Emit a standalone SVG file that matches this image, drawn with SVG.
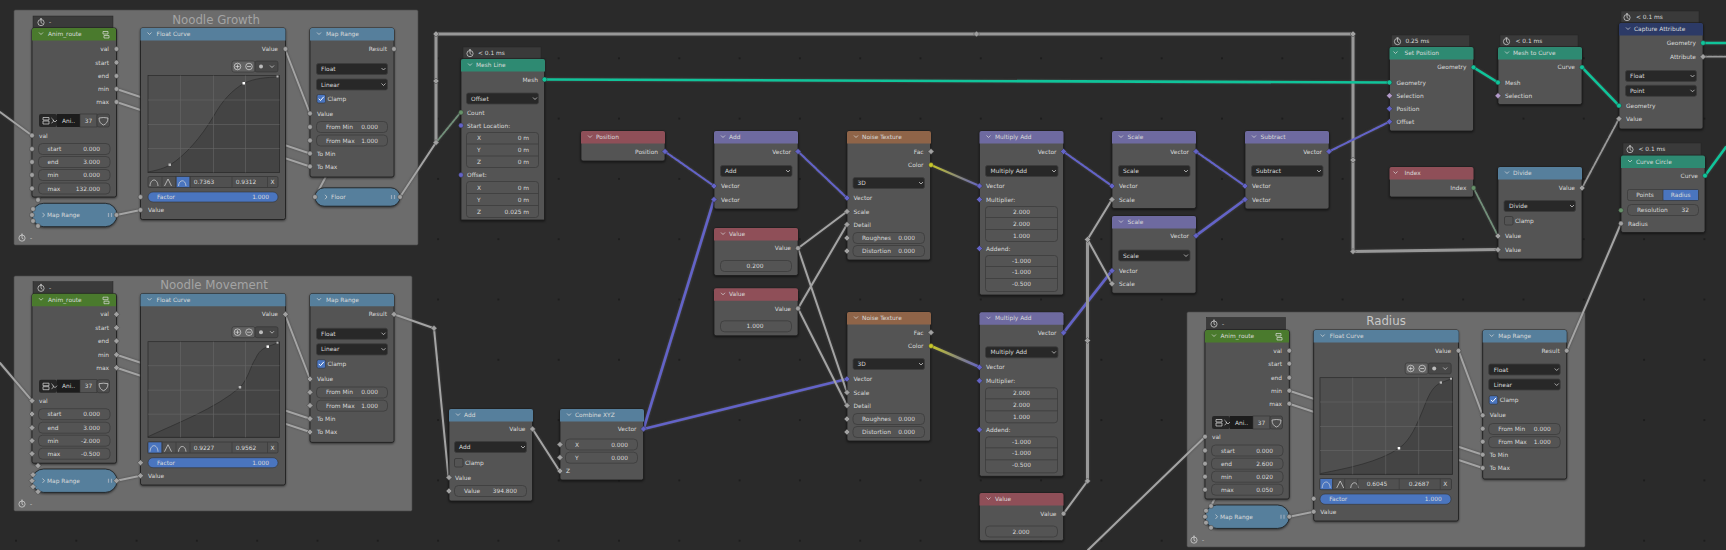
<svg xmlns="http://www.w3.org/2000/svg" width="1726" height="550" viewBox="0 0 1726 550">
<style>
text{font-family:"DejaVu Sans","Liberation Sans",sans-serif;font-size:5.9px;fill:#dadada}
.e{text-anchor:end}.m{text-anchor:middle}
.ft{font-size:11.8px;text-anchor:middle;fill:#a4a4a4}
.b{fill:#545454;stroke:#1c1c1c;stroke-width:.8;filter:drop-shadow(0 1px 1px #0008)}
.tab{fill:#3a3a3a;stroke:#262626;stroke-width:.5}
.f{fill:#545454;stroke:#3c3c3c;stroke-width:.8}
.dd{fill:#282828;stroke:#3c3c3c;stroke-width:.8}
.dv{stroke:#3c3c3c;stroke-width:.8;fill:none}
.ic{fill:none;stroke:#dcdcdc;stroke-width:.7}
.fr{fill:#6c6c6c;stroke:#4c4c4c;stroke-width:.6}
.hb{fill:#567f9c}.hg{fill:#4a7a2d}.hq{fill:#2e8a72}.hr{fill:#8f4f58}.hp{fill:#6e6aa0}.ho{fill:#8f6448}.hn{fill:#2c3a66}
.s{fill:#a1a1a1;stroke:#2c2c2c;stroke-width:.4}.sv{fill:#6363c7;stroke:#2c2c2c;stroke-width:.4}.sg{fill:#10c49a;stroke:#2c2c2c;stroke-width:.4}
.si{fill:#66916a;stroke:#2c2c2c;stroke-width:.4}.sy{fill:#c7c729;stroke:#2c2c2c;stroke-width:.4}.sl{fill:#b29ac9;stroke:#2c2c2c;stroke-width:.4}
#links{filter:drop-shadow(0 0 .8px #4a4a4a)}
#links path{fill:none;stroke-linecap:round}
.lw{stroke:#a4a4a4;stroke-width:2}.lt{stroke:#989898;stroke-width:3}
.lm{stroke:#10c49a;stroke-width:2.600}.lp{stroke:#6363c7;stroke-width:2.700}.lpd{stroke:#6363c7;stroke-width:2.100;stroke-dasharray:4 1.200}
.lwd{stroke:#9a9a9a;stroke-width:1.800;stroke-dasharray:4 1.200}.lid{stroke:#72907a;stroke-width:1.800;stroke-dasharray:4 1.200}
.g{fill:#4f4f4f;stroke:#2a2a2a;stroke-width:.7}.gl{stroke:#666;stroke-width:.6;fill:none}.ga{fill:#444;stroke:#2c2c2c;stroke-width:.7}
.cb{fill:#4a75bf;stroke:#333;stroke-width:.6}.cn{fill:#505050;stroke:#333;stroke-width:.7}
.pt{fill:#fff}.pn{fill:#b8b8b8}
</style>
<defs>
<pattern id="dots" x="15" y="-3" width="60.3" height="60.3" patternUnits="userSpaceOnUse"><rect width="2" height="2" fill="#1d1d1d"/></pattern>
<path id="D" d="M0-3 3 0 0 3-3 0z"/>
<circle id="C" r="2.4"/>
<path id="hd" d="M0 12.5V2q0-2 2-2h80q2 0 2 2v10.5z"/>
<path id="hw" d="M0 12.5V2q0-2 2-2h141q2 0 2 2v10.5z"/>
<path id="cv" class="ic" d="M-2-1 0 1 2-1"/>
<path id="cr" class="ic" d="M-1-2.2 1 0-1 2.2"/>
<g id="clk" class="ic"><circle cy=".6" r="3.1"/><path d="M-1-3.3H1M0-2.5V.6L1.5 1.6"/></g>
<path id="tick" d="M-2.4 0-.7 1.8 2.6-2" fill="none" stroke="#fff" stroke-width="1"/>
<g id="zb"><rect x="91.5" y="33" width="23" height="11" rx="2" fill="#626262" stroke="#333" stroke-width=".6"/><rect x="114.5" y="33" width="23" height="11" rx="2" fill="#474747" stroke="#333" stroke-width=".6"/><g class="ic"><circle cx="97" cy="38.5" r="3.3"/><path d="M95 38.5H99M97 36.5V40.5"/><circle cx="108.5" cy="38.5" r="3.3"/><path d="M106.5 38.5H110.5"/></g><circle cx="120.5" cy="38.5" r="2" fill="#bbb"/><use href="#cv" x="131.5" y="38.5"/></g>
<g id="hi" class="ic"><path d="M9.5 158C10 150 17 150 17.5 158M24 158 27.5 151 31 158M38 158C38.500 151 45 151 45.500 158"/></g>
<g id="sel"><rect x="7" y="86" width="18" height="13" rx="2" fill="#262626"/><rect x="25" y="86" width="23" height="13" fill="#1c1c1c"/><rect x="48" y="86" width="17" height="13" fill="#545454" stroke="#333" stroke-width=".6"/><rect x="65" y="86" width="12.500" height="13" rx="2" fill="#4c4c4c" stroke="#333" stroke-width=".6"/><path class="ic" d="M11 89.500H17V92H11ZM11 93H17V96H11ZM19.500 90C22 92 22 94 19.500 95"/><use href="#cv" x="23" y="93"/><path class="ic" d="M67 90Q71.500 89 76 90C76 94 74 96 71.500 97C69 96 67 94 67 90Z"/></g>
<path id="ngi" class="ic" d="M71 3.500H76V6H71ZM72 7.500H77V10H72Z"/>
<linearGradient id="gc1" gradientUnits="userSpaceOnUse" x1="931" y1="165" x2="979.500" y2="186"><stop offset="0" stop-color="#c7c729"/><stop offset=".5" stop-color="#8f8f70"/><stop offset="1" stop-color="#6363c7"/></linearGradient>
<linearGradient id="gc2" gradientUnits="userSpaceOnUse" x1="931" y1="346" x2="979.500" y2="367"><stop offset="0" stop-color="#c7c729"/><stop offset=".5" stop-color="#8f8f70"/><stop offset="1" stop-color="#6363c7"/></linearGradient>
</defs>
<rect id="bg" width="1726" height="550" fill="#2a2a2a"/>
<rect width="1726" height="550" fill="url(#dots)"/>

<g id="frames">
<g id="frame-growth"><rect class="fr" x="14" y="10" width="404" height="235" rx="1.500"/><text class="ft" x="216" y="23.500">Noodle Growth</text><use href="#clk" x="22" y="237.500"/><text x="30" y="240">-</text></g>
<g id="frame-movement"><rect class="fr" x="14" y="276" width="398" height="235" rx="1.500"/><text class="ft" x="214" y="288.500">Noodle Movement</text><use href="#clk" x="22" y="503.500"/><text x="30" y="506">-</text></g>
<g id="frame-radius"><rect class="fr" x="1187" y="312" width="398" height="235" rx="1.500"/><text class="ft" x="1386" y="325" style="fill:#c8c8c8">Radius</text><use href="#clk" x="1194" y="539.500"/><text x="1202" y="542">-</text></g>
</g>

<g id="links">
<path class="lw" d="M0 112 32 135.500"/>
<path class="lw" d="M116.500 89 310 153.500M116.500 102 310 166.500M116.500 215 140.500 210M285 49 310 113.500M394 49 315 197M116.500 49 38 200"/>
<path class="lw" d="M400 197 436 142.500"/>
<path class="lid" d="M436 142.500 460.500 112.500"/>
<path class="lt" d="M436 142.500V34H1353V251.500L1498 249.500"/>
<path class="lw" d="M0 363 32 400.700"/>
<path class="lw" d="M116.500 354.700 310 418.700M116.500 367.700 310 432M116.500 480.700 140.500 475.700M285 314.300 310 379M116.500 314.300 38 465.500"/>
<path class="lw" d="M394 314.300 434 328.300 448.500 477.500"/>
<path class="lw" d="M532.500 429 559.500 471"/>
<path class="lp" d="M643.500 429 714 199.500M643.500 429 847 379"/>
<path class="lm" d="M544.500 79.500 1389.500 82.500"/>
<path class="lpd" d="M665 151.500 714 186M798 151.500 847 198"/>
<path class="lw" d="M798 248.200 847 211.500M798 248.200 847 392.500M798 308.500 847 224.500M798 308.500 847 405.500"/>
<path d="M931 165 979.500 186" stroke="url(#gc1)" stroke-width="2"/>
<path d="M931 346 979.500 367" stroke="url(#gc2)" stroke-width="2.500"/>
<path class="lpd" d="M1063.500 151.500 1112 186M1196 151.500 1245 186M1329 151.500 1389.500 121.700"/>
<path class="lp" d="M1063.500 332.700 1112 270.700M1196 235.700 1245 199.500"/>
<path class="lw" d="M1063.500 513.700 1087.500 481M1087.500 239.500 1112 199.500M1087.500 239.500 1112 283.700"/>
<path class="lt" d="M1087.500 481V239.500"/>
<path class="lw" d="M1088 550 1205 436.700"/>
<path class="lw" d="M1289.300 390.700 1482.700 454.700M1289.300 403.700 1482.700 468M1289.300 516.700 1313.700 511.700M1458.500 350.700 1482.700 415.300M1289.300 350.700 1211 506"/>
<path class="lw" d="M1566.700 350.700 1621 223.500"/>
<path class="lm" d="M1473.500 67.300 1498 82.500M1582 67.300 1619 105.700M1703 43H1726M1705 175.700 1726 147"/>
<path class="lwd" d="M1582 188 1619 118.700M1703 56.700H1726"/>
<path class="lid" d="M1473.500 188 1498 236"/>
</g>
<g id="reroutes">
<use href="#D" class="s" x="436" y="34"/><use href="#D" class="s" x="436" y="81"/><use href="#D" class="s" x="436" y="142.500"/>
<use href="#D" class="s" x="976.500" y="34"/><use href="#D" class="s" x="1353" y="34"/><use href="#D" class="s" x="1353" y="160"/><use href="#D" class="s" x="1353" y="251.500"/>
<use href="#D" class="s" x="434" y="328.300"/><use href="#D" class="s" x="1087.500" y="239.500"/><use href="#D" class="s" x="1087.500" y="340.500"/><use href="#D" class="s" x="1087.500" y="481"/>
</g>

<g id="anim-growth" transform="translate(32 28)"><rect class="tab" x="1" y="-12" width="80" height="12.500"/><use href="#clk" x="9" y="-6"/><text x="17" y="-3.800">-</text><rect class="b" width="84.500" height="169" rx="2"/><use href="#hd" class="hg"/><use href="#cv" x="9" y="5.500"/><text x="16" y="8.200">Anim_route</text><use href="#ngi"/>
<text class="e" x="77" y="23.100">val</text><text class="e" x="77" y="36.600">start</text><text class="e" x="77" y="50.100">end</text><text class="e" x="77" y="63.100">min</text><text class="e" x="77" y="76.100">max</text>
<use href="#C" class="s" x="84.500" y="21"/><use href="#C" class="s" x="84.500" y="34.500"/><use href="#C" class="s" x="84.500" y="48"/><use href="#C" class="s" x="84.500" y="61"/><use href="#C" class="s" x="84.500" y="74"/>
<use href="#sel"/><text class="m" x="36.500" y="94.600">Ani..</text><text class="m" x="56.500" y="94.600">37</text>
<use href="#C" class="s" y="107.500"/><text x="7" y="109.600">val</text>
<rect class="f" x="6.500" y="115.500" width="71.500" height="11" rx="4"/><rect class="f" x="6.500" y="128.500" width="71.500" height="11" rx="4"/><rect class="f" x="6.500" y="141.500" width="71.500" height="11" rx="4"/><rect class="f" x="6.500" y="155" width="71.500" height="11" rx="4"/>
<use href="#C" class="s" y="121"/><use href="#C" class="s" y="134"/><use href="#C" class="s" y="147"/><use href="#C" class="s" y="160.500"/>
<text x="15.500" y="123.100">start</text><text class="e" x="68" y="123.100">0.000</text><text x="15.500" y="136.100">end</text><text class="e" x="68" y="136.100">3.000</text><text x="15.500" y="149.100">min</text><text class="e" x="68" y="149.100">0.000</text><text x="15.500" y="162.600">max</text><text class="e" x="68" y="162.600">132.000</text></g>

<g id="maprange-collapsed-growth" transform="translate(32 215)"><rect class="b" y="-11.700" width="85" height="23.400" rx="11.700" style="fill:#567f9c"/><use href="#cr" x="11.500"/><text x="15" y="2.100">Map Range</text><path d="M76.500-2V2M79.500-2V2" stroke="#9ab" stroke-width="1.200"/><use href="#C" class="s" x="6" y="-15"/><use href="#C" class="s" x="1" y="-6"/><use href="#C" class="s"/><use href="#C" class="s" x="1" y="6"/><use href="#C" class="s" x="6" y="11"/><use href="#C" class="s" x="84.500"/></g>

<g id="floatcurve-growth" transform="translate(140.500 28)"><rect class="b" width="145" height="191.500" rx="2"/><use href="#hw" class="hb"/><use href="#cv" x="9" y="5.500"/><text x="16" y="8.200">Float Curve</text><text class="e" x="137.500" y="23.100">Value</text><use href="#C" class="s" x="145" y="21"/><use href="#zb"/>
<rect class="g" x="7.500" y="47.500" width="131.500" height="97"/><path class="ga" d="M7.500 144C18 142 24 140 29.500 137C45 127 60 110 72.800 88.700C82 72 92 62 103.500 55.300C115 50 125 49.500 139 49V144.500H7.500Z"/><path class="gl" d="M40 47.500V144.500M73 47.500V144.500M105 47.500V144.500M7.500 72H139M7.500 96.500H139M7.500 120.500H139"/>
<rect class="pn" x="28" y="135.500" width="2.500" height="2.500"/><rect class="pt" x="102" y="54" width="2.500" height="2.500"/><rect class="pn" x="136" y="47.500" width="2" height="2"/>
<rect class="cn" x="7.500" y="148.500" width="130" height="11" rx="1.500"/><rect class="cb" x="35.500" y="148.500" width="14" height="11"/><use href="#hi"/><path class="dv" d="M21.500 148.500V159.500M35.500 148.500V159.500M49.500 148.500V159.500M91.500 148.500V159.500M127 148.500V159.500"/><text class="m" x="63.500" y="156">0.7363</text><text class="m" x="105.500" y="156">0.9312</text><text class="m" x="132" y="156">X</text>
<rect class="cb" x="7.500" y="164" width="130" height="10" rx="5"/><text x="16.500" y="171.100">Factor</text><text class="e" x="128.500" y="171.100">1.000</text><use href="#C" class="s" y="169"/><use href="#C" class="s" y="182"/><text x="7.500" y="184.100">Value</text></g>

<g id="maprange-growth" transform="translate(310 28)"><rect class="b" width="84" height="149" rx="2"/><use href="#hd" class="hb"/><use href="#cv" x="9" y="5.500"/><text x="16" y="8.200">Map Range</text><text class="e" x="77" y="23.100">Result</text><use href="#C" class="s" x="84" y="21"/>
<rect class="dd" x="6.500" y="35.500" width="71" height="11" rx="2"/><text x="11" y="43.100">Float</text><use href="#cv" x="73.500" y="41"/><rect class="dd" x="6.500" y="51" width="71" height="11" rx="2"/><text x="11" y="58.600">Linear</text><use href="#cv" x="73.500" y="56.500"/>
<rect class="cb" x="7" y="66.500" width="8.500" height="8.500" rx="1.500"/><use href="#tick" x="11.200" y="70.700"/><text x="17.500" y="73.100">Clamp</text>
<use href="#C" class="s" y="85.500"/><text x="7" y="87.600">Value</text><rect class="f" x="6.500" y="93.500" width="71" height="11" rx="4"/><rect class="f" x="6.500" y="107" width="71" height="11" rx="4"/><use href="#C" class="s" y="99"/><use href="#C" class="s" y="112.500"/><text x="16" y="101.100">From Min</text><text class="e" x="68" y="101.100">0.000</text><text x="16" y="114.600">From Max</text><text class="e" x="68" y="114.600">1.000</text>
<use href="#C" class="s" y="125.500"/><text x="7" y="127.600">To Min</text><use href="#C" class="s" y="138.500"/><text x="7" y="140.600">To Max</text></g>

<g id="floor" transform="translate(315 197)"><rect class="b" y="-9.200" width="85" height="18.400" rx="9.200" style="fill:#567f9c"/><use href="#cr" x="11"/><text x="16" y="2.100">Floor</text><path d="M76.500-2V2M79.500-2V2" stroke="#9ab" stroke-width="1.200"/><use href="#C" class="s"/><use href="#C" class="s" x="85"/></g>

<g id="anim-movement" transform="translate(32 293.700)"><rect class="tab" x="1" y="-12" width="80" height="12.500"/><use href="#clk" x="9" y="-6"/><text x="17" y="-3.800">-</text><rect class="b" width="84.500" height="169.500" rx="2"/><use href="#hd" class="hg"/><use href="#cv" x="9" y="5.500"/><text x="16" y="8.200">Anim_route</text><use href="#ngi"/>
<text class="e" x="77" y="22.700">val</text><text class="e" x="77" y="36.100">start</text><text class="e" x="77" y="49.400">end</text><text class="e" x="77" y="63.100">min</text><text class="e" x="77" y="76.100">max</text>
<use href="#D" class="s" x="84.500" y="20.600"/><use href="#D" class="s" x="84.500" y="34"/><use href="#D" class="s" x="84.500" y="47.300"/><use href="#D" class="s" x="84.500" y="61"/><use href="#D" class="s" x="84.500" y="74"/>
<use href="#sel"/><text class="m" x="36.500" y="94.600">Ani..</text><text class="m" x="56.500" y="94.600">37</text>
<use href="#D" class="s" y="107"/><text x="7" y="109.100">val</text>
<rect class="f" x="6.500" y="115" width="71.500" height="11" rx="4"/><rect class="f" x="6.500" y="128.500" width="71.500" height="11" rx="4"/><rect class="f" x="6.500" y="141.500" width="71.500" height="11" rx="4"/><rect class="f" x="6.500" y="154.500" width="71.500" height="11" rx="4"/>
<use href="#D" class="s" y="120.300"/><use href="#D" class="s" y="134"/><use href="#D" class="s" y="147"/><use href="#D" class="s" y="160"/>
<text x="15.500" y="122.400">start</text><text class="e" x="68" y="122.400">0.000</text><text x="15.500" y="136.100">end</text><text class="e" x="68" y="136.100">3.000</text><text x="15.500" y="149.100">min</text><text class="e" x="68" y="149.100">-2.000</text><text x="15.500" y="162.100">max</text><text class="e" x="68" y="162.100">-0.500</text></g>

<g id="maprange-collapsed-movement" transform="translate(32 480.700)"><rect class="b" y="-11.700" width="85" height="23.400" rx="11.700" style="fill:#567f9c"/><use href="#cr" x="11.500"/><text x="15" y="2.100">Map Range</text><path d="M76.500-2V2M79.500-2V2" stroke="#9ab" stroke-width="1.200"/><use href="#D" class="s" x="6" y="-15"/><use href="#D" class="s" x="1" y="-6"/><use href="#D" class="s"/><use href="#D" class="s" x="1" y="6"/><use href="#D" class="s" x="6" y="11"/><use href="#D" class="s" x="84.500"/></g>

<g id="floatcurve-movement" transform="translate(140.500 293.700)"><rect class="b" width="145" height="191.300" rx="2"/><use href="#hw" class="hb"/><use href="#cv" x="9" y="5.500"/><text x="16" y="8.200">Float Curve</text><text class="e" x="137.500" y="22.700">Value</text><use href="#D" class="s" x="145" y="20.600"/><use href="#zb"/>
<rect class="g" x="7.500" y="48" width="131.500" height="95.600"/><path class="ga" d="M7.500 143C35 130 75 115 99.500 93.600C108 85 110 72 115 65C118 58 122 55 127.200 53L139 48.500V143.600H7.500Z"/><path class="gl" d="M40 48V143.600M73 48V143.600M105 48V143.600M7.500 72H139M7.500 96.500H139M7.500 120.500H139"/>
<rect class="pn" x="98.200" y="92.300" width="2.500" height="2.500"/><rect class="pt" x="126" y="51.700" width="2.500" height="2.500"/><rect class="pn" x="136" y="48" width="2" height="2"/>
<rect class="cn" x="7.500" y="148.300" width="130" height="11" rx="1.500"/><rect class="cb" x="7.500" y="148.300" width="14" height="11"/><use href="#hi"/><path class="dv" d="M21.500 148.300V159.300M35.500 148.300V159.300M49.500 148.300V159.300M91.500 148.300V159.300M127 148.300V159.300"/><text class="m" x="63.500" y="156">0.9227</text><text class="m" x="105.500" y="156">0.9562</text><text class="m" x="132" y="156">X</text>
<rect class="cb" x="7.500" y="164" width="130" height="10" rx="5"/><text x="16.500" y="171.100">Factor</text><text class="e" x="128.500" y="171.100">1.000</text><use href="#D" class="s" y="169"/><use href="#D" class="s" y="182"/><text x="7.500" y="184.100">Value</text></g>

<g id="maprange-movement" transform="translate(310 293.700)"><rect class="b" width="84" height="148.700" rx="2"/><use href="#hd" class="hb"/><use href="#cv" x="9" y="5.500"/><text x="16" y="8.200">Map Range</text><text class="e" x="77" y="22.700">Result</text><use href="#D" class="s" x="84" y="20.600"/>
<rect class="dd" x="6.500" y="34.600" width="71" height="11" rx="2"/><text x="11" y="42.200">Float</text><use href="#cv" x="73.500" y="40"/><rect class="dd" x="6.500" y="50" width="71" height="11.300" rx="2"/><text x="11" y="57.700">Linear</text><use href="#cv" x="73.500" y="55.500"/>
<rect class="cb" x="7" y="66" width="8.500" height="8.500" rx="1.500"/><use href="#tick" x="11.200" y="70.200"/><text x="17.500" y="72.500">Clamp</text>
<use href="#D" class="s" y="85.300"/><text x="7" y="87.400">Value</text><rect class="f" x="6.500" y="93.300" width="71" height="11" rx="4"/><rect class="f" x="6.500" y="106.500" width="71" height="11" rx="4"/><use href="#D" class="s" y="98.600"/><use href="#D" class="s" y="111.800"/><text x="16" y="100.700">From Min</text><text class="e" x="68" y="100.700">0.000</text><text x="16" y="113.900">From Max</text><text class="e" x="68" y="113.900">1.000</text>
<use href="#D" class="s" y="125"/><text x="7" y="127.100">To Min</text><use href="#D" class="s" y="138.300"/><text x="7" y="140.400">To Max</text></g>

<g id="mesh-line" transform="translate(461 59)"><rect class="tab" x="2" y="-12" width="78" height="12"/><use href="#clk" x="9" y="-6"/><text x="17" y="-3.800">&lt; 0.1 ms</text><rect class="b" width="83.500" height="161"/><use href="#hd" class="hq"/><use href="#cv" x="9" y="5.500"/><text x="15" y="8.200">Mesh Line</text><text class="e" x="77" y="22.600">Mesh</text><use href="#C" class="sg" x="83.500" y="20.500"/>
<rect class="dd" x="5.500" y="34" width="72" height="11" rx="2"/><text x="10" y="41.600">Offset</text><use href="#cv" x="74" y="39.500"/>
<use href="#C" class="si" y="53.500"/><text x="6" y="55.600">Count</text><use href="#C" class="sv" y="66.500"/><text x="6" y="68.600">Start Location:</text>
<rect class="f" x="5.500" y="73.500" width="72" height="35" rx="3"/><path class="dv" d="M5.500 85H77.500M5.500 97H77.500"/><text x="16" y="80.600">X</text><text class="e" x="68" y="80.600">0 m</text><text x="16" y="92.600">Y</text><text class="e" x="68" y="92.600">0 m</text><text x="16" y="104.600">Z</text><text class="e" x="68" y="104.600">0 m</text>
<use href="#C" class="sv" y="116"/><text x="6" y="118.100">Offset:</text>
<rect class="f" x="5.500" y="122.500" width="72" height="36" rx="3"/><path class="dv" d="M5.500 134.500H77.500M5.500 146.500H77.500"/><text x="16" y="130.600">X</text><text class="e" x="68" y="130.600">0 m</text><text x="16" y="142.600">Y</text><text class="e" x="68" y="142.600">0 m</text><text x="16" y="154.600">Z</text><text class="e" x="68" y="154.600">0.025 m</text></g>

<g id="position" transform="translate(581 131)"><rect class="b" width="84" height="30" rx="2"/><use href="#hd" class="hr"/><use href="#cv" x="9" y="5.500"/><text x="15" y="8.200">Position</text><text class="e" x="77" y="22.600">Position</text><use href="#D" class="sv" x="84" y="20.500"/></g>

<g id="add-vector" transform="translate(714 131)"><rect class="b" width="84" height="78" rx="2"/><use href="#hd" class="hp"/><use href="#cv" x="9" y="5.500"/><text x="15" y="8.200">Add</text><text class="e" x="77" y="22.600">Vector</text><use href="#D" class="sv" x="84" y="20.500"/><rect class="dd" x="6.500" y="34.500" width="71.500" height="11" rx="2"/><text x="11" y="42.100">Add</text><use href="#cv" x="74" y="40"/><use href="#D" class="sv" y="55"/><text x="7" y="57.100">Vector</text><use href="#D" class="sv" y="68.500"/><text x="7" y="70.600">Vector</text></g>

<g id="value-a" transform="translate(714 228)"><rect class="b" width="84" height="47.500" rx="2"/><use href="#hd" class="hr"/><use href="#cv" x="9" y="5.500"/><text x="15" y="8.200">Value</text><text class="e" x="77" y="22.300">Value</text><use href="#C" class="s" x="84" y="20.200"/><rect class="f" x="6.500" y="32.500" width="71" height="11" rx="4"/><text class="m" x="41" y="40.100">0.200</text></g>
<g id="value-b" transform="translate(714 288.300)"><rect class="b" width="84" height="47.500" rx="2"/><use href="#hd" class="hr"/><use href="#cv" x="9" y="5.500"/><text x="15" y="8.200">Value</text><text class="e" x="77" y="22.300">Value</text><use href="#C" class="s" x="84" y="20.200"/><rect class="f" x="6.500" y="32.500" width="71" height="11" rx="4"/><text class="m" x="41" y="40.100">1.000</text></g>

<g id="noise-a" transform="translate(847 131)"><rect class="b" width="83.500" height="129" rx="2"/><use href="#hd" class="ho"/><use href="#cv" x="9" y="5.500"/><text x="15" y="8.200">Noise Texture</text><text class="e" x="76.500" y="22.600">Fac</text><use href="#D" class="s" x="84" y="20.500"/><text class="e" x="76.500" y="36.100">Color</text><use href="#C" class="sy" x="84" y="34"/><rect class="dd" x="6" y="46.500" width="71.500" height="11" rx="2"/><text x="10.500" y="54.100">3D</text><use href="#cv" x="74" y="52"/>
<use href="#D" class="sv" y="67"/><text x="6.500" y="69.100">Vector</text><use href="#D" class="s" y="80.500"/><text x="6.500" y="82.600">Scale</text><use href="#D" class="s" y="93.500"/><text x="6.500" y="95.600">Detail</text><rect class="f" x="6" y="101.500" width="71.500" height="11" rx="4"/><use href="#D" class="s" y="107"/><text x="15" y="109.100">Roughnes</text><text class="e" x="68" y="109.100">0.000</text><rect class="f" x="6" y="114.500" width="71.500" height="11" rx="4"/><use href="#D" class="s" y="120"/><text x="15" y="122.100">Distortion</text><text class="e" x="68" y="122.100">0.000</text></g>
<g id="noise-b" transform="translate(847 312)"><rect class="b" width="83.500" height="129" rx="2"/><use href="#hd" class="ho"/><use href="#cv" x="9" y="5.500"/><text x="15" y="8.200">Noise Texture</text><text class="e" x="76.500" y="22.600">Fac</text><use href="#D" class="s" x="84" y="20.500"/><text class="e" x="76.500" y="36.100">Color</text><use href="#C" class="sy" x="84" y="34"/><rect class="dd" x="6" y="46.500" width="71.500" height="11" rx="2"/><text x="10.500" y="54.100">3D</text><use href="#cv" x="74" y="52"/>
<use href="#D" class="sv" y="67"/><text x="6.500" y="69.100">Vector</text><use href="#D" class="s" y="80.500"/><text x="6.500" y="82.600">Scale</text><use href="#D" class="s" y="93.500"/><text x="6.500" y="95.600">Detail</text><rect class="f" x="6" y="101.500" width="71.500" height="11" rx="4"/><use href="#D" class="s" y="107"/><text x="15" y="109.100">Roughnes</text><text class="e" x="68" y="109.100">0.000</text><rect class="f" x="6" y="114.500" width="71.500" height="11" rx="4"/><use href="#D" class="s" y="120"/><text x="15" y="122.100">Distortion</text><text class="e" x="68" y="122.100">0.000</text></g>

<g id="muladd-a" transform="translate(979.500 131)"><rect class="b" width="84" height="164" rx="2"/><use href="#hd" class="hp"/><use href="#cv" x="9" y="5.500"/><text x="15.500" y="8.200">Multiply Add</text><text class="e" x="77" y="22.600">Vector</text><use href="#D" class="sv" x="84" y="20.500"/><rect class="dd" x="6" y="34.500" width="72.500" height="11" rx="2"/><text x="11" y="42.100">Multiply Add</text><use href="#cv" x="74.500" y="40"/>
<use href="#D" class="sv" y="55"/><text x="6.500" y="57.100">Vector</text><use href="#D" class="sv" y="68.500"/><text x="6.500" y="70.600">Multiplier:</text><rect class="f" x="6" y="75.500" width="72" height="35" rx="3"/><path class="dv" d="M6 86.500H78M6 98.500H78"/><text class="m" x="42" y="82.600">2.000</text><text class="m" x="42" y="94.600">2.000</text><text class="m" x="42" y="106.600">1.000</text>
<use href="#D" class="sv" y="117.500"/><text x="6.500" y="119.600">Addend:</text><rect class="f" x="6" y="124.500" width="72" height="36" rx="3"/><path class="dv" d="M6 135.500H78M6 147.500H78"/><text class="m" x="42" y="131.600">-1.000</text><text class="m" x="42" y="143.100">-1.000</text><text class="m" x="42" y="155.100">-0.500</text></g>
<g id="muladd-b" transform="translate(979.500 312.300)"><rect class="b" width="84" height="164" rx="2"/><use href="#hd" class="hp"/><use href="#cv" x="9" y="5.500"/><text x="15.500" y="8.200">Multiply Add</text><text class="e" x="77" y="22.600">Vector</text><use href="#D" class="sv" x="84" y="20.500"/><rect class="dd" x="6" y="34.500" width="72.500" height="11" rx="2"/><text x="11" y="42.100">Multiply Add</text><use href="#cv" x="74.500" y="40"/>
<use href="#D" class="sv" y="55"/><text x="6.500" y="57.100">Vector</text><use href="#D" class="sv" y="68.500"/><text x="6.500" y="70.600">Multiplier:</text><rect class="f" x="6" y="75.500" width="72" height="35" rx="3"/><path class="dv" d="M6 86.500H78M6 98.500H78"/><text class="m" x="42" y="82.600">2.000</text><text class="m" x="42" y="94.600">2.000</text><text class="m" x="42" y="106.600">1.000</text>
<use href="#D" class="sv" y="117.500"/><text x="6.500" y="119.600">Addend:</text><rect class="f" x="6" y="124.500" width="72" height="36" rx="3"/><path class="dv" d="M6 135.500H78M6 147.500H78"/><text class="m" x="42" y="131.600">-1.000</text><text class="m" x="42" y="143.100">-1.000</text><text class="m" x="42" y="155.100">-0.500</text></g>

<g id="value-c" transform="translate(979.500 493)"><rect class="b" width="84" height="47.700" rx="2"/><use href="#hd" class="hr"/><use href="#cv" x="9" y="5.500"/><text x="15.500" y="8.200">Value</text><text class="e" x="77" y="22.800">Value</text><use href="#C" class="s" x="84" y="20.700"/><rect class="f" x="6" y="33" width="72" height="11" rx="4"/><text class="m" x="41.500" y="40.600">2.000</text></g>

<g id="scale-a" transform="translate(1112 131)"><rect class="b" width="84" height="77.500" rx="2"/><use href="#hd" class="hp"/><use href="#cv" x="9" y="5.500"/><text x="15.500" y="8.200">Scale</text><text class="e" x="77" y="22.600">Vector</text><use href="#D" class="sv" x="84" y="20.500"/><rect class="dd" x="6.500" y="34.500" width="71.500" height="11" rx="2"/><text x="11" y="42.100">Scale</text><use href="#cv" x="74" y="40"/><use href="#D" class="sv" y="55"/><text x="7" y="57.100">Vector</text><use href="#D" class="s" y="68.500"/><text x="7" y="70.600">Scale</text></g>
<g id="scale-b" transform="translate(1112 216)"><rect class="b" width="84" height="77.300" rx="2"/><use href="#hd" class="hp"/><use href="#cv" x="9" y="5.500"/><text x="15.500" y="8.200">Scale</text><text class="e" x="77" y="21.800">Vector</text><use href="#D" class="sv" x="84" y="19.700"/><rect class="dd" x="6.500" y="34" width="71.500" height="11" rx="2"/><text x="11" y="41.600">Scale</text><use href="#cv" x="74" y="39.500"/><use href="#D" class="sv" y="54.700"/><text x="7" y="56.800">Vector</text><use href="#D" class="s" y="67.700"/><text x="7" y="69.800">Scale</text></g>

<g id="subtract" transform="translate(1245 131)"><rect class="b" width="84" height="78" rx="2"/><use href="#hd" class="hp"/><use href="#cv" x="9" y="5.500"/><text x="15.500" y="8.200">Subtract</text><text class="e" x="77" y="22.600">Vector</text><use href="#D" class="sv" x="84" y="20.500"/><rect class="dd" x="6.500" y="34.500" width="71.500" height="11" rx="2"/><text x="11" y="42.100">Subtract</text><use href="#cv" x="74" y="40"/><use href="#D" class="sv" y="55"/><text x="7" y="57.100">Vector</text><use href="#D" class="sv" y="68.500"/><text x="7" y="70.600">Vector</text></g>

<g id="add-value" transform="translate(449 409)"><rect class="b" width="83.500" height="92" rx="2"/><use href="#hd" class="hb"/><use href="#cv" x="9" y="5.500"/><text x="15" y="8.200">Add</text><text class="e" x="76.500" y="22.100">Value</text><use href="#D" class="s" x="83.500" y="20"/><rect class="dd" x="5.500" y="32.500" width="72" height="11" rx="2"/><text x="10" y="40.100">Add</text><use href="#cv" x="74" y="38"/><rect x="5.500" y="49.500" width="8.500" height="8.500" rx="1.500" fill="#545454" stroke="#333" stroke-width=".7"/><text x="16" y="56">Clamp</text><use href="#D" class="s" y="68.500"/><text x="6" y="70.600">Value</text><use href="#D" class="s" y="82"/><rect class="f" x="5.500" y="76.500" width="72" height="11" rx="4"/><text x="15" y="84.100">Value</text><text class="e" x="68" y="84.100">394.800</text></g>

<g id="combine-xyz" transform="translate(560 409)"><rect class="b" width="83.500" height="71" rx="2"/><use href="#hd" class="hb"/><use href="#cv" x="9" y="5.500"/><text x="15" y="8.200">Combine XYZ</text><text class="e" x="76.500" y="22.100">Vector</text><use href="#D" class="sv" x="83.500" y="20"/><rect class="f" x="5.500" y="30" width="72" height="11" rx="4"/><use href="#D" class="s" y="35.500"/><text x="15" y="37.600">X</text><text class="e" x="68" y="37.600">0.000</text><rect class="f" x="5.500" y="43.200" width="72" height="11" rx="4"/><use href="#D" class="s" y="48.500"/><text x="15" y="50.600">Y</text><text class="e" x="68" y="50.600">0.000</text><use href="#D" class="s" y="62"/><text x="6" y="64.100">Z</text></g>

<g id="set-position" transform="translate(1389.500 47)"><rect class="tab" x="2" y="-12" width="78" height="12"/><use href="#clk" x="8" y="-6"/><text x="16" y="-3.800">0.25 ms</text><rect class="b" width="84" height="84" rx="2"/><use href="#hd" class="hq"/><use href="#cv" x="6" y="5.500"/><text x="15" y="8.200">Set Position</text><text class="e" x="77" y="22.400">Geometry</text><use href="#C" class="sg" x="84" y="20.300"/><use href="#C" class="sg" y="35.500"/><text x="7" y="37.600">Geometry</text><use href="#D" class="sl" y="48.700"/><text x="7" y="50.800">Selection</text><use href="#D" class="sv" y="61.700"/><text x="7" y="63.800">Position</text><use href="#D" class="sv" y="74.700"/><text x="7" y="76.800">Offset</text></g>

<g id="mesh-to-curve" transform="translate(1498 47)"><rect class="tab" x="2" y="-12" width="78" height="12"/><use href="#clk" x="8.500" y="-6"/><text x="17.500" y="-3.800">&lt; 0.1 ms</text><rect class="b" width="84" height="57.500" rx="2"/><use href="#hd" class="hq"/><use href="#cv" x="9" y="5.500"/><text x="15" y="8.200">Mesh to Curve</text><text class="e" x="77" y="22.400">Curve</text><use href="#C" class="sg" x="84" y="20.300"/><use href="#C" class="sg" y="35.500"/><text x="7" y="37.600">Mesh</text><use href="#D" class="sl" y="48.700"/><text x="7" y="50.800">Selection</text></g>

<g id="capture-attribute" transform="translate(1619 23)"><rect class="tab" x="2" y="-12" width="78" height="12"/><use href="#clk" x="8" y="-6"/><text x="17" y="-3.800">&lt; 0.1 ms</text><rect class="b" width="84" height="106" rx="2"/><use href="#hd" class="hn"/><use href="#cv" x="9" y="5.500"/><text x="15" y="8.200">Capture Attribute</text><text class="e" x="77" y="22.100">Geometry</text><use href="#C" class="sg" x="84" y="20"/><text class="e" x="77" y="35.800">Attribute</text><use href="#D" class="s" x="84" y="33.700"/><rect class="dd" x="6.500" y="47.500" width="71" height="11" rx="2"/><text x="11" y="55.100">Float</text><use href="#cv" x="73.500" y="53"/><rect class="dd" x="6.500" y="62.300" width="71" height="11" rx="2"/><text x="11" y="69.900">Point</text><use href="#cv" x="73.500" y="67.800"/><use href="#C" class="sg" y="82.700"/><text x="7" y="84.800">Geometry</text><use href="#D" class="s" y="95.700"/><text x="7" y="97.800">Value</text></g>

<g id="curve-circle" transform="translate(1621 155.500)"><rect class="tab" x="2" y="-12.500" width="78" height="12"/><use href="#clk" x="9" y="-6.500"/><text x="17.500" y="-4.300">&lt; 0.1 ms</text><rect class="b" width="84" height="77" rx="2"/><use href="#hd" class="hq"/><use href="#cv" x="9" y="5.500"/><text x="15" y="8.200">Curve Circle</text><text class="e" x="77" y="22.300">Curve</text><use href="#C" class="sg" x="84" y="20.200"/><rect class="f" x="6.500" y="34" width="71" height="11" rx="2"/><rect class="cb" x="42" y="34" width="35.500" height="11" rx="1"/><text class="m" x="24" y="41.600">Points</text><text class="m" x="59.700" y="41.600">Radius</text><rect class="f" x="6.500" y="49" width="71" height="11" rx="4"/><use href="#C" class="si" y="54.800"/><text x="16" y="56.900">Resolution</text><text class="e" x="68" y="56.900">32</text><use href="#C" class="s" y="68"/><text x="7" y="70.100">Radius</text></g>

<g id="index" transform="translate(1389.500 167)"><rect class="b" width="84" height="30" rx="2"/><use href="#hd" class="hr"/><use href="#cv" x="6" y="5.500"/><text x="15" y="8.200">Index</text><text class="e" x="77" y="23.100">Index</text><use href="#C" class="si" x="84" y="21"/></g>

<g id="divide" transform="translate(1498 167)"><rect class="b" width="84" height="92" rx="2"/><use href="#hd" class="hb"/><use href="#cv" x="9" y="5.500"/><text x="15" y="8.200">Divide</text><text class="e" x="77" y="23.100">Value</text><use href="#D" class="s" x="84" y="21"/><rect class="dd" x="6" y="33.500" width="71.500" height="11" rx="2"/><text x="11" y="41.100">Divide</text><use href="#cv" x="74" y="39"/><rect x="6.500" y="49.500" width="8.500" height="8.500" rx="1.500" fill="#545454" stroke="#333" stroke-width=".7"/><text x="17" y="56">Clamp</text><use href="#D" class="s" y="69"/><text x="7" y="71.100">Value</text><use href="#D" class="s" y="82.700"/><text x="7" y="84.800">Value</text></g>

<g id="anim-radius" transform="translate(1205 330)"><rect class="tab" x="1.500" y="-12.500" width="79" height="12.500"/><use href="#clk" x="9" y="-6.500"/><text x="17" y="-4.300">-</text><rect class="b" width="84.300" height="169" rx="2"/><use href="#hd" class="hg"/><use href="#cv" x="9" y="5.500"/><text x="15.500" y="8.200">Anim_route</text><use href="#ngi"/>
<text class="e" x="77" y="22.800">val</text><text class="e" x="77" y="35.800">start</text><text class="e" x="77" y="49.800">end</text><text class="e" x="77" y="62.800">min</text><text class="e" x="77" y="75.800">max</text>
<use href="#C" class="s" x="84.300" y="20.700"/><use href="#C" class="s" x="84.300" y="33.700"/><use href="#C" class="s" x="84.300" y="47.700"/><use href="#C" class="s" x="84.300" y="60.700"/><use href="#C" class="s" x="84.300" y="73.700"/>
<use href="#sel"/><text class="m" x="36.500" y="94.600">Ani..</text><text class="m" x="56.500" y="94.600">37</text>
<use href="#C" class="s" y="106.700"/><text x="7" y="108.800">val</text>
<rect class="f" x="6.500" y="115" width="71.500" height="11" rx="4"/><rect class="f" x="6.500" y="128.200" width="71.500" height="11" rx="4"/><rect class="f" x="6.500" y="141.200" width="71.500" height="11" rx="4"/><rect class="f" x="6.500" y="154.200" width="71.500" height="11" rx="4"/>
<use href="#C" class="s" y="120.500"/><use href="#C" class="s" y="133.700"/><use href="#C" class="s" y="146.700"/><use href="#C" class="s" y="159.700"/>
<text x="16" y="122.600">start</text><text class="e" x="68" y="122.600">0.000</text><text x="16" y="135.800">end</text><text class="e" x="68" y="135.800">2.600</text><text x="16" y="148.800">min</text><text class="e" x="68" y="148.800">0.020</text><text x="16" y="161.800">max</text><text class="e" x="68" y="161.800">0.050</text></g>

<g id="maprange-collapsed-radius" transform="translate(1205 516.700)"><rect class="b" y="-11.700" width="84.300" height="23.400" rx="11.700" style="fill:#567f9c"/><use href="#cr" x="11.500"/><text x="15" y="2.100">Map Range</text><path d="M76-2V2M79-2V2" stroke="#9ab" stroke-width="1.200"/><use href="#C" class="s" x="6" y="-10.700"/><use href="#C" class="s" x="1" y="-6"/><use href="#C" class="s"/><use href="#C" class="s" x="1" y="6"/><use href="#C" class="s" x="6" y="11"/><use href="#C" class="s" x="84.300"/></g>

<g id="floatcurve-radius" transform="translate(1313.700 330)"><rect class="b" width="144.800" height="191" rx="2"/><use href="#hw" class="hb"/><use href="#cv" x="9" y="5.500"/><text x="16" y="8.200">Float Curve</text><text class="e" x="137.500" y="22.800">Value</text><use href="#C" class="s" x="144.800" y="20.700"/><use href="#zb"/>
<rect class="g" x="6.300" y="47.700" width="132.500" height="96.600"/><path class="ga" d="M7 143.500C35 138 65 132 85.300 118.300C97 110 103 95 110 78C116 62 120 56 127.300 52.700L138.800 48.500V144.300H6.300Z"/><path class="gl" d="M39 47.700V144.300M72 47.700V144.300M105 47.700V144.300M6.300 72H138.800M6.300 96.500H138.800M6.300 120.500H138.800"/>
<rect class="pt" x="84" y="117" width="2.500" height="2.500"/><rect class="pn" x="126" y="51.400" width="2.300" height="2.300"/><rect class="pn" x="136.300" y="47.700" width="2" height="2"/>
<rect class="cn" x="6.300" y="148.700" width="131.500" height="11" rx="1.500"/><rect class="cb" x="6.300" y="148.700" width="12.700" height="11"/><use href="#hi" x="-1"/><path class="dv" d="M19 148.700V159.700M31 148.700V159.700M44 148.700V159.700M85.500 148.700V159.700M126.500 148.700V159.700"/><text class="m" x="63.300" y="156.400">0.6045</text><text class="m" x="105.300" y="156.400">0.2687</text><text class="m" x="131.500" y="156.400">X</text>
<rect class="cb" x="6.300" y="164" width="131" height="10.300" rx="5"/><text x="15.500" y="171">Factor</text><text class="e" x="128" y="171">1.000</text><use href="#C" class="s" y="168.700"/><use href="#C" class="s" y="181.700"/><text x="6.500" y="183.800">Value</text></g>

<g id="maprange-radius" transform="translate(1482.700 330)"><rect class="b" width="84" height="149" rx="2"/><use href="#hd" class="hb"/><use href="#cv" x="9" y="5.500"/><text x="15.500" y="8.200">Map Range</text><text class="e" x="77" y="22.800">Result</text><use href="#C" class="s" x="84" y="20.700"/>
<rect class="dd" x="6" y="34" width="71.500" height="11" rx="2"/><text x="11" y="41.600">Float</text><use href="#cv" x="74" y="39.500"/><rect class="dd" x="6" y="49" width="71.500" height="11" rx="2"/><text x="11" y="56.600">Linear</text><use href="#cv" x="74" y="54.500"/>
<rect class="cb" x="6.500" y="65.700" width="8.500" height="8.500" rx="1.500"/><use href="#tick" x="10.700" y="69.900"/><text x="17" y="72.200">Clamp</text>
<use href="#C" class="s" y="85.300"/><text x="7" y="87.400">Value</text><rect class="f" x="6" y="93.500" width="71.500" height="11" rx="4"/><rect class="f" x="6" y="106.700" width="71.500" height="11" rx="4"/><use href="#C" class="s" y="98.700"/><use href="#C" class="s" y="111.700"/><text x="15.500" y="100.800">From Min</text><text class="e" x="68" y="100.800">0.000</text><text x="15.500" y="113.800">From Max</text><text class="e" x="68" y="113.800">1.000</text>
<use href="#C" class="s" y="124.700"/><text x="7" y="126.800">To Min</text><use href="#C" class="s" y="138"/><text x="7" y="140.100">To Max</text></g>
</svg>
